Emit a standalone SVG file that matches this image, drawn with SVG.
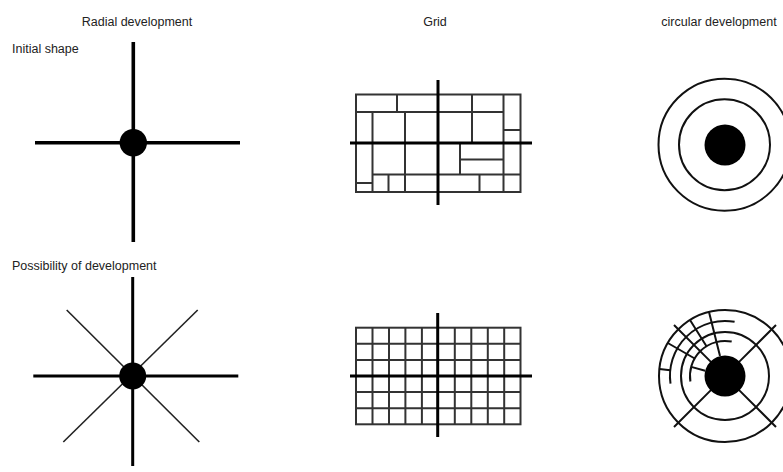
<svg xmlns="http://www.w3.org/2000/svg" width="783" height="472" viewBox="0 0 783 472">
<style>
text{font-family:"Liberation Sans",Arial,sans-serif;font-size:12.5px;fill:#222}
.c{text-anchor:middle}
.thick{stroke:#000;stroke-width:3.6;fill:none}
.med{stroke:#000;stroke-width:3;fill:none}
.thin{stroke:#222;stroke-width:1.6;fill:none}
.g{stroke:#333;stroke-width:2;fill:none}
.ring{stroke:#111;stroke-width:2;fill:none}
.dot{fill:#000}
</style>
<rect width="783" height="472" fill="#fff"/>
<g id="labels">
<text class="c" x="137" y="26">Radial development</text>
<text class="c" x="435" y="26">Grid</text>
<text class="c" x="719" y="26">circular development</text>
<text x="12" y="53">Initial shape</text>
<text x="12" y="270">Possibility of development</text>
</g>
<g id="radial-initial">
<line class="thick" x1="133.3" y1="42" x2="133.3" y2="242"/>
<line class="thick" x1="35" y1="142.7" x2="240" y2="142.7"/>
<circle class="dot" cx="133.3" cy="142.7" r="13.7"/>
</g>
<g id="grid-initial">
<rect class="g" x="356" y="94.5" width="164.5" height="97.5"/>
<path class="g" d="M356 112H503.5M503.5 130H520.5M460 159.5H503.5M372.5 174.5H520.5M356 183H372.5M397 94.5V112M472 94.5V143M503.5 94.5V192M372.5 112V192M405 112V192M460 143V174.5M388.5 174.5V192M479.5 174.5V192"/>
<line class="med" x1="438" y1="80" x2="438" y2="205"/>
<line class="med" x1="350" y1="143" x2="532" y2="143"/>
</g>
<g id="circular-initial">
<circle class="ring" cx="724.5" cy="144.7" r="66"/>
<circle class="ring" cx="724.5" cy="144.7" r="45.5"/>
<circle class="dot" cx="725" cy="145" r="20.5"/>
</g>
<g id="radial-development">
<line class="thin" x1="66.7" y1="310" x2="199.3" y2="442"/>
<line class="thin" x1="197.7" y1="310" x2="63.3" y2="442"/>
<line class="med" x1="132.7" y1="277" x2="132.7" y2="466"/>
<line class="med" x1="33.3" y1="376" x2="238.3" y2="376"/>
<circle class="dot" cx="132.7" cy="376" r="13.5"/>
</g>
<g id="grid-development">
<rect class="g" x="356" y="327.7" width="164.5" height="96.6" stroke="#555"/>
<path class="g" d="M372.5 327.7V424.3M389 327.7V424.3M405.4 327.7V424.3M421.9 327.7V424.3M454.8 327.7V424.3M471.3 327.7V424.3M487.8 327.7V424.3M504.2 327.7V424.3M356 343.8H520.5M356 359.9H520.5M356 392.1H520.5M356 408.2H520.5"/>
<line class="med" x1="437.7" y1="313" x2="437.7" y2="437"/>
<line class="med" x1="350" y1="376" x2="532" y2="376"/>
</g>
<g id="circular-development">
<circle class="ring" cx="725" cy="376" r="66"/>
<circle class="ring" cx="725" cy="376" r="44"/>
<path class="ring" d="M670.5 383.7A55 55 0 0 1 734.6 321.8M690.4 381.5A35 35 0 0 1 731.7 341.6"/>
<path class="ring" d="M710.9 361.9L674 325M739.1 361.9L776 325M710.9 390.1L674 427M739.1 390.1L776 427M720 356.1L709 312M706.5 346.3L690 320M694.7 358.5L667.8 343M705.2 370.7L691.2 366.9M670.3 370.3L659.4 369.1"/>
<circle class="dot" cx="725" cy="376" r="20.5"/>
</g>
</svg>
